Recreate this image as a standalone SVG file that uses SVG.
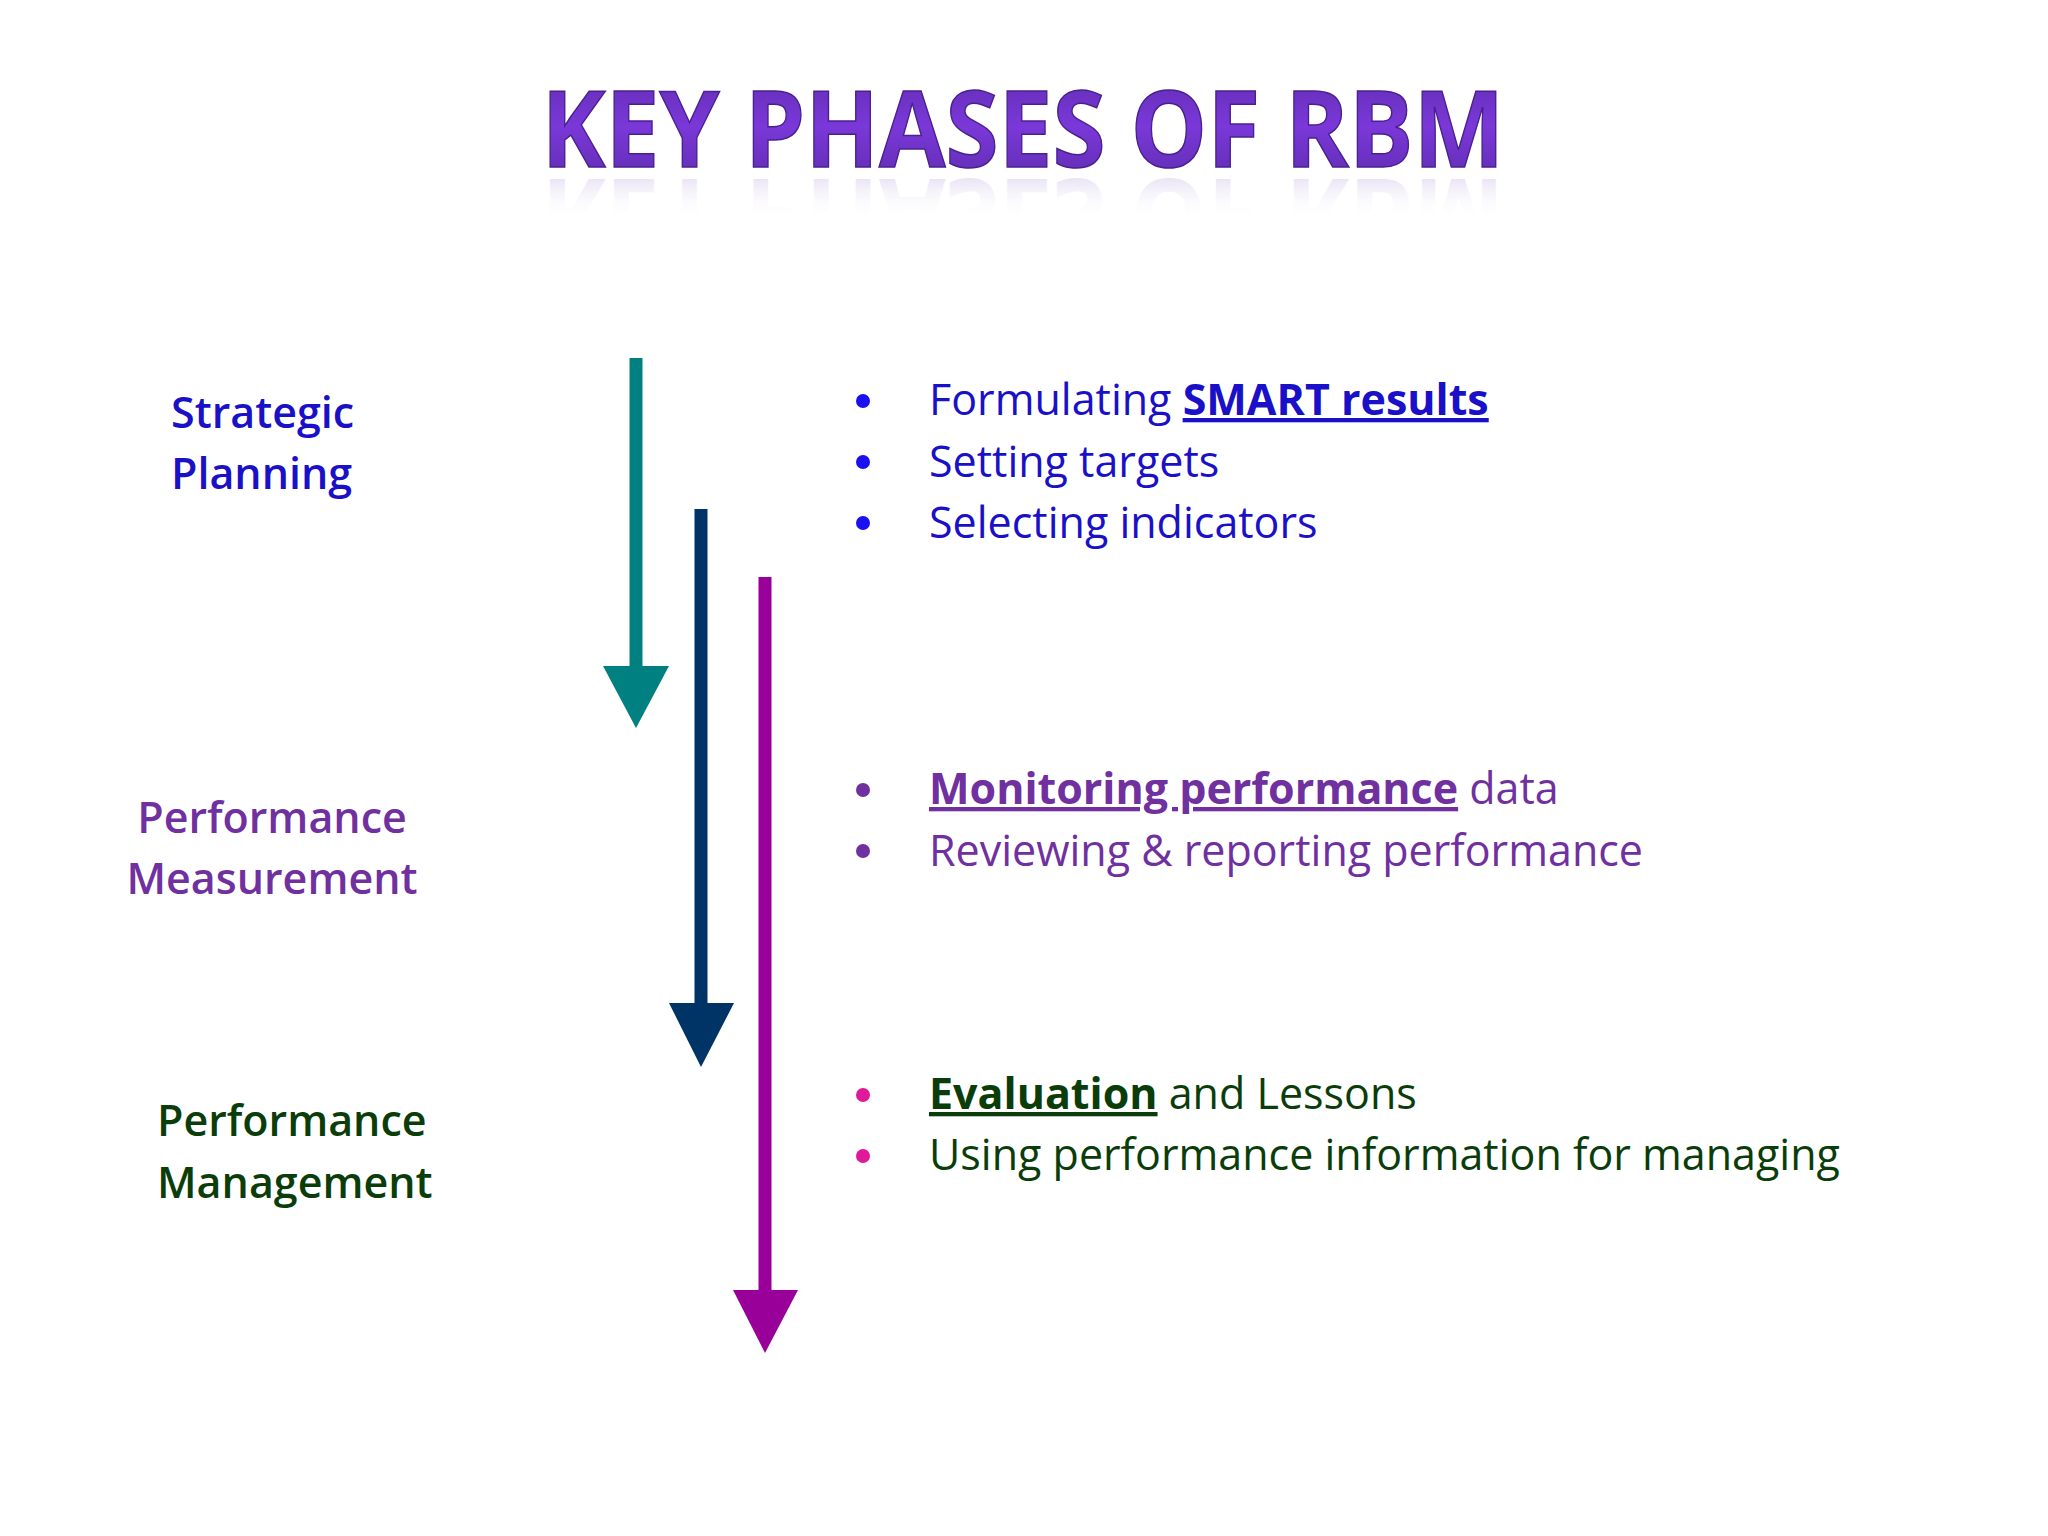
<svg xmlns="http://www.w3.org/2000/svg" width="2048" height="1536" viewBox="0 0 2048 1536">
<defs>
<linearGradient id="tg" x1="0" y1="0" x2="0" y2="1"><stop offset="0" stop-color="#5a2aa8"/><stop offset="0.5" stop-color="#7a38d8"/><stop offset="1" stop-color="#5a2aa8"/></linearGradient>
<linearGradient id="rg" gradientUnits="userSpaceOnUse" x1="0" y1="172" x2="0" y2="100"><stop offset="0" stop-color="#b8a0e0" stop-opacity="0.7"/><stop offset="0.6" stop-color="#ffffff" stop-opacity="0"/></linearGradient>
</defs>
<style>
text{font-family:"Open Sans","Liberation Sans",sans-serif}
.lab{font-size:43px;font-weight:600}
.it{font-size:43px}
.u{font-weight:700;text-decoration:underline}
</style>
<rect width="2048" height="1536" fill="#ffffff"/>
<g id="title">
<text x="1023" y="167" text-anchor="middle" font-size="106" font-weight="700" fill="url(#tg)" stroke="#4a2090" stroke-width="1.5" textLength="963" lengthAdjust="spacingAndGlyphs">KEY PHASES OF RBM</text>
<text transform="translate(0,346) scale(1,-1)" x="1023" y="167" text-anchor="middle" font-size="106" font-weight="700" fill="url(#rg)" opacity="0.5" textLength="963" lengthAdjust="spacingAndGlyphs">KEY PHASES OF RBM</text>
</g>
<g id="strategic" class="lab" fill="#1a10c8"><text x="171" y="428">Strategic</text><text x="171" y="489">Planning</text></g>
<g id="measurement" class="lab" fill="#7030a0" text-anchor="middle"><text x="272" y="833">Performance</text><text x="272" y="894">Measurement</text></g>
<g id="management" class="lab" fill="#0a3d0a"><text x="157" y="1136">Performance</text><text x="157" y="1198">Management</text></g>
<g id="connectors">
<line x1="636" y1="358" x2="636" y2="670" stroke="#008080" stroke-width="13"/>
<polygon points="603,666 669,666 636,728" fill="#008080"/>
<line x1="701" y1="509" x2="701" y2="1006" stroke="#003366" stroke-width="13"/>
<polygon points="669,1003 734,1003 701,1067" fill="#003366"/>
<line x1="765" y1="577" x2="765" y2="1293" stroke="#990099" stroke-width="13"/>
<polygon points="733,1290 798,1290 765,1353" fill="#990099"/>
</g>
<g id="list1" class="it" fill="#1a10c8">
<circle cx="863" cy="401" r="7" fill="#1a10f0"/><circle cx="863" cy="462" r="7" fill="#1a10f0"/><circle cx="863" cy="523" r="7" fill="#1a10f0"/>
<text x="929" y="415">Formulating <tspan class="u">SMART results</tspan></text>
<text x="929" y="477">Setting targets</text>
<text x="929" y="538">Selecting indicators</text>
</g>
<g id="list2" class="it" fill="#7030a0">
<circle cx="863" cy="790" r="7"/><circle cx="863" cy="851" r="7"/>
<text x="929" y="804"><tspan class="u">Monitoring performance</tspan> data</text>
<text x="929" y="866">Reviewing &amp; reporting performance</text>
</g>
<g id="list3" class="it" fill="#0a3d0a">
<circle cx="863" cy="1095" r="7" fill="#e0189a"/><circle cx="863" cy="1156" r="7" fill="#e0189a"/>
<text x="929" y="1109"><tspan class="u">Evaluation</tspan> and Lessons</text>
<text x="929" y="1170">Using performance information for managing</text>
</g>
</svg>
